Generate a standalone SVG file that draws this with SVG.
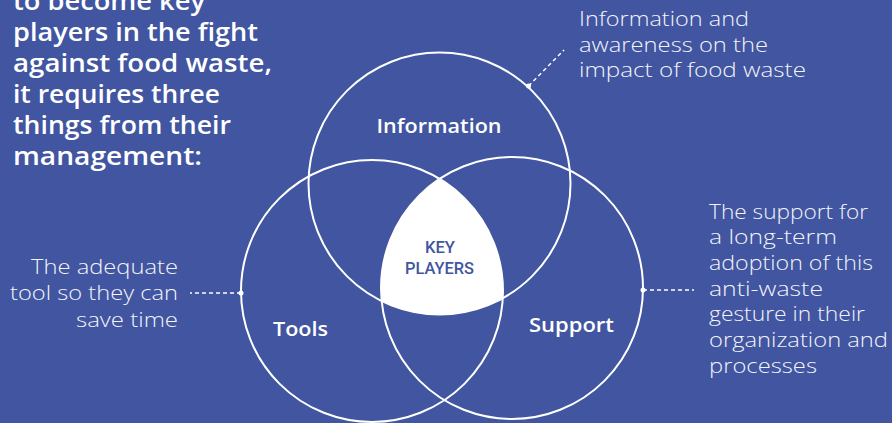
<svg xmlns="http://www.w3.org/2000/svg" width="892" height="423" viewBox="0 0 892 423">
  <style>
    .ring { fill: none; stroke: #ffffff; stroke-width: 2; }
    .lead { fill: none; stroke: #ffffff; stroke-width: 1.5; stroke-dasharray: 4 3; }
    .dot { fill: #ffffff; }
    .intro { font-family: "Open Sans", "Liberation Sans", sans-serif; font-weight: 600; font-size: 25px; fill: #ffffff; }
    .note { font-family: "Open Sans", "Liberation Sans", sans-serif; font-weight: 300; font-size: 21px; fill: #f2f4fa; }
    .end { text-anchor: end; }
    .set { font-family: "Open Sans", "Liberation Sans", sans-serif; font-weight: 600; font-size: 20px; fill: #ffffff; text-anchor: middle; }
    .core { font-family: Roboto, "Liberation Sans", sans-serif; font-weight: 500; font-size: 17px; fill: #4155a0; text-anchor: middle; }
  </style>
  <defs>
    <clipPath id="clipTools"><circle cx="372" cy="291" r="131"/></clipPath>
    <clipPath id="clipSupport"><circle cx="512" cy="288" r="131"/></clipPath>
  </defs>

  <rect width="892" height="423" fill="#4155a0"/>

  <!-- intro paragraph -->
  <g id="intro">
    <text class="intro" x="13" y="10" textLength="192" lengthAdjust="spacingAndGlyphs">to become key</text>
    <text class="intro" x="13" y="41" textLength="245" lengthAdjust="spacingAndGlyphs">players in the fight</text>
    <text class="intro" x="13" y="72" textLength="259" lengthAdjust="spacingAndGlyphs">against food waste,</text>
    <text class="intro" x="13" y="103" textLength="207" lengthAdjust="spacingAndGlyphs">it requires three</text>
    <text class="intro" x="13" y="134" textLength="218" lengthAdjust="spacingAndGlyphs">things from their</text>
    <text class="intro" x="13" y="165" textLength="189" lengthAdjust="spacingAndGlyphs">management:</text>
  </g>

  <!-- shared centre: area common to all three sets -->
  <g id="key-players">
    <g clip-path="url(#clipSupport)">
      <circle cx="439.5" cy="183.5" r="131" fill="#ffffff" clip-path="url(#clipTools)"/>
    </g>
    <text class="core" x="440" y="253" textLength="30" lengthAdjust="spacingAndGlyphs">KEY</text>
    <text class="core" x="439.5" y="273.5" textLength="69" lengthAdjust="spacingAndGlyphs">PLAYERS</text>
  </g>

  <g id="information">
    <circle class="ring" cx="439.5" cy="183.5" r="131"/>
    <text class="set" x="439" y="133" textLength="125" lengthAdjust="spacingAndGlyphs">Information</text>
  </g>

  <g id="tools">
    <circle class="ring" cx="372" cy="291" r="131"/>
    <text class="set" x="300.5" y="336" textLength="55" lengthAdjust="spacingAndGlyphs">Tools</text>
  </g>

  <g id="support">
    <circle class="ring" cx="512" cy="288" r="131"/>
    <text class="set" x="571.5" y="332" textLength="85" lengthAdjust="spacingAndGlyphs">Support</text>
  </g>

  <!-- leader lines to the notes -->
  <g id="connectors">
    <line class="lead" x1="528.5" y1="86" x2="564" y2="50"/>
    <circle class="dot" cx="528.5" cy="86" r="2.5"/>
    <line class="lead" x1="241" y1="293" x2="190" y2="293"/>
    <circle class="dot" cx="241" cy="293" r="2.5"/>
    <line class="lead" x1="643" y1="290" x2="694" y2="290"/>
    <circle class="dot" cx="643" cy="290" r="2.5"/>
  </g>

  <g id="note-information">
    <text class="note" x="579" y="26" textLength="170" lengthAdjust="spacingAndGlyphs">Information and</text>
    <text class="note" x="579" y="51.5" textLength="189" lengthAdjust="spacingAndGlyphs">awareness on the</text>
    <text class="note" x="579" y="77" textLength="227" lengthAdjust="spacingAndGlyphs">impact of food waste</text>
  </g>

  <g id="note-tools">
    <text class="note end" x="178" y="273.5" textLength="147" lengthAdjust="spacingAndGlyphs">The adequate</text>
    <text class="note end" x="178" y="300" textLength="168" lengthAdjust="spacingAndGlyphs">tool so they can</text>
    <text class="note end" x="178" y="326.5" textLength="102" lengthAdjust="spacingAndGlyphs">save time</text>
  </g>

  <g id="note-support">
    <text class="note" x="709" y="218.5" textLength="159" lengthAdjust="spacingAndGlyphs">The support for</text>
    <text class="note" x="709" y="244" textLength="128" lengthAdjust="spacingAndGlyphs">a long-term</text>
    <text class="note" x="709" y="270" textLength="164" lengthAdjust="spacingAndGlyphs">adoption of this</text>
    <text class="note" x="709" y="295.5" textLength="114" lengthAdjust="spacingAndGlyphs">anti-waste</text>
    <text class="note" x="709" y="321" textLength="156" lengthAdjust="spacingAndGlyphs">gesture in their</text>
    <text class="note" x="709" y="347" textLength="179" lengthAdjust="spacingAndGlyphs">organization and</text>
    <text class="note" x="709" y="372.5" textLength="108" lengthAdjust="spacingAndGlyphs">processes</text>
  </g>
</svg>
